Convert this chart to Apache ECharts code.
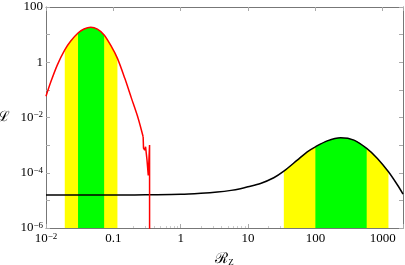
<!DOCTYPE html>
<html>
<head>
<meta charset="utf-8">
<script src="https://cdn.jsdelivr.net/npm/echarts@6/dist/echarts.min.js"></script>
<style>
html, body { margin: 0; padding: 0; background: #fff; }
#chart { width: 405px; height: 265px; }
</style>
</head>
<body>
<div id="chart"></div>
<script>
// red curve (low R_Z peak)
var redX = [0.01, 0.0118, 0.0147, 0.019, 0.0233, 0.0299, 0.0367, 0.0462, 0.058, 0.073, 0.0938, 0.115, 0.148, 0.186, 0.234, 0.277];
var redY = [0.059, 0.196, 0.79, 2.8, 5.86, 11.5, 16.0, 18.4, 15.7, 9.7, 3.65, 1.38, 0.261, 0.0492, 0.00927, 0.0020];
// noisy tail of the red curve, drawn unsmoothed
var redTailX = [0.277, 0.2805, 0.292, 0.301, 0.316, 0.330, 0.345, 0.3455];
var redTailY = [0.0020, 7.8e-4, 6.6e-4, 8.7e-4, 2.9e-4, 8e-5, 1e-3, 1e-9];
// black curve (high R_Z peak)
var blackX = [0.01, 0.1, 0.3, 1, 2, 3.5, 5.6, 7.7, 10, 15.3, 24.1, 34, 53.8, 75.7, 100, 150, 237, 374, 578, 834, 1216, 1656, 2000];
var blackY = [1.55e-5, 1.55e-5, 1.6e-5, 1.65e-5, 1.8e-5, 2e-5, 2.3e-5, 2.65e-5, 3.1e-5, 4.1e-5, 6.6e-5, 1.14e-4, 2.86e-4, 5.7e-4, 8.7e-4, 1.43e-3, 1.84e-3, 1.52e-3, 7.6e-4, 3.3e-4, 1.08e-4, 3.6e-5, 1.7e-5];
// shaded intervals [lo, hi]
var redYellow = [0.019, 0.115];
var redGreen = [0.0299, 0.073];
var blackYellow = [34, 1216];
var blackGreen = [100, 578];

var serif = "'Liberation Serif', 'DejaVu Serif', serif";

function pairs(xs, ys, range) {
	var out = [];
	for (var i = 0; i < xs.length; i++) {
		if (!range || (xs[i] >= range[0] && xs[i] <= range[1])) out.push([xs[i], ys[i]]);
	}
	return out;
}

function band(xs, ys, range, color) {
	return {
		type: 'line', data: pairs(xs, ys, range), smooth: 0.3, showSymbol: false, silent: true,
		lineStyle: { width: 0 }, areaStyle: { color: color, opacity: 1, origin: 'start' }
	};
}

var supRich = { s: { fontSize: 9, fontFamily: serif, verticalAlign: 'top', padding: [0, 0, 5, 0] } };

function expLabel(v) {
	var e = Math.round(Math.log10(v));
	if (Math.abs(Math.log10(v) - e) > 1e-6) return '';
	if (e === 2) return '100';
	if (e === 1) return '10';
	if (e === 0) return '1';
	if (e === -1) return '0.1';
	if (e === 3) return '1000';
	return '10{s|\u2212' + (-e) + '}';
}

var mychart = echarts.init(document.getElementById('chart'));
var tickStyle = { show: true, inside: true, length: 4, lineStyle: { color: '#aaa' } };
var frameLine = { show: true, lineStyle: { color: '#777', width: 1 } };

var option = {
	animation: false,
	grid: { left: 46, right: 2, top: 7, bottom: 37, outerBoundsMode: 'none', containLabel: false },
	xAxis: [
		{
			type: 'log', min: 0.01, max: 2000, interval: 1, position: 'bottom',
			axisLine: frameLine, axisTick: tickStyle, splitLine: { show: false },
			minorTick: { show: true, splitNumber: 9, length: 2, lineStyle: { color: '#ccc' } },
			axisLabel: {
				formatter: function (v) { if (v > 1000) return ''; return expLabel(v); },
				fontFamily: serif, fontSize: 13, color: '#000', margin: 4, rich: supRich
			},
			name: '{r|\u211B}{z|Z}', nameLocation: 'middle', nameGap: 24,
			nameTextStyle: { rich: { r: { fontSize: 15, fontFamily: serif, color: '#000' }, z: { fontSize: 9, fontFamily: serif, color: '#000', verticalAlign: 'bottom' } } }
		},
		{
			type: 'log', min: 0.01, max: 2000, interval: 1, position: 'top',
			axisLine: frameLine, axisTick: tickStyle, axisLabel: { show: false }, splitLine: { show: false }
		}
	],
	yAxis: [
		{
			type: 'log', min: 1e-6, max: 100, interval: 1, position: 'left',
			axisLine: frameLine, axisTick: tickStyle, splitLine: { show: false },
			axisLabel: {
				formatter: function (v) {
					var e = Math.round(Math.log10(v));
					if (e % 2 !== 0) return '';
					return expLabel(v);
				},
				fontFamily: serif, fontSize: 13, color: '#000', margin: 3, rich: supRich
			},
			name: '\u2112', nameLocation: 'middle', nameGap: 36, nameRotate: 0,
			nameTextStyle: { fontSize: 14, fontFamily: serif, color: '#000' }
		},
		{
			type: 'log', min: 1e-6, max: 100, interval: 1, position: 'right',
			axisLine: frameLine, axisTick: tickStyle, axisLabel: { show: false }, splitLine: { show: false }
		}
	],
	series: [
		band(redX, redY, redYellow, '#ffff00'),
		band(redX, redY, redGreen, '#00ff00'),
		band(blackX, blackY, blackYellow, '#ffff00'),
		band(blackX, blackY, blackGreen, '#00ff00'),
		{
			type: 'line', data: pairs(blackX, blackY), smooth: 0.3, showSymbol: false,
			lineStyle: { color: '#000', width: 1.5 }
		},
		{
			type: 'line', data: pairs(redX, redY), smooth: 0.3, showSymbol: false,
			lineStyle: { color: '#ff0000', width: 1.5 }
		},
		{
			type: 'line', data: pairs(redTailX, redTailY), showSymbol: false,
			lineStyle: { color: '#ff0000', width: 1.5 }
		}
	]
};
mychart.setOption(option);
</script>
</body>
</html>
